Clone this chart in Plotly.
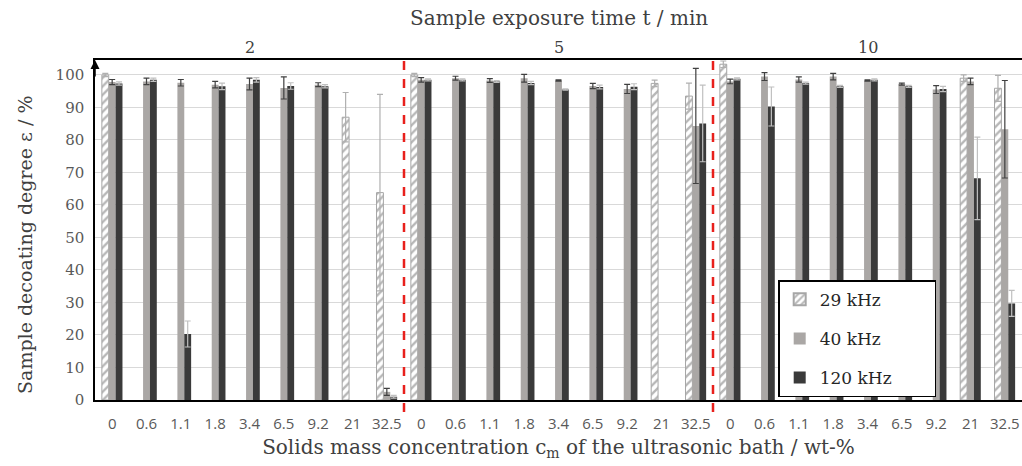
import plotly.graph_objects as go

conc_labels = ["0", "0.6", "1.1", "1.8", "3.4", "6.5", "9.2", "21", "32.5"]
time_groups = ["2", "5", "10"]
tick_text = conc_labels * 3
x_idx = list(range(len(tick_text)))

khz29 = [100, None, None, None, None, None, None, 87.0, 63.8,
         100, None, None, None, None, None, None, 97.4, 93.5,
         103.3, None, None, None, None, None, None, 99.0, 95.9]
khz29_err = [0.5, None, None, None, None, None, None, 7.6, 30.2,
             0.5, None, None, None, None, None, None, 1.0, 4.0,
             1.0, None, None, None, None, None, None, 1.0, 4.0]

khz40 = [97.8, 98.0, 97.6, 97.0, 97.2, 96.0, 97.0, None, 2.5,
         98.5, 99.0, 98.3, 99.0, 98.3, 96.6, 95.7, None, 84.3,
         98.0, 99.5, 98.6, 99.5, 98.3, 97.2, 95.5, 98.0, 83.3]
khz40_err = [0.8, 1.0, 1.0, 1.0, 1.8, 3.4, 0.6, None, 1.1,
             0.7, 0.6, 0.6, 1.2, 0.2, 0.8, 1.4, None, 17.7,
             0.7, 1.2, 0.8, 1.0, 0.2, 0.3, 1.2, 1.0, 15.0]

khz120 = [97.4, 98.5, 20.3, 96.5, 98.5, 96.6, 96.5, None, 1.0,
          98.5, 98.5, 98.0, 97.5, 95.5, 96.3, 96.4, None, 85.1,
          98.8, 90.3, 97.5, 96.5, 98.5, 96.5, 95.7, 68.2, 29.7]
khz120_err = [0.5, 0.5, 4.0, 1.0, 0.7, 1.0, 0.5, None, 0.4,
              0.3, 0.3, 0.3, 0.5, 0.2, 0.6, 0.9, None, 11.8,
              0.3, 6.0, 0.3, 0.3, 0.3, 0.3, 0.8, 12.7, 4.0]

SERIF = "DejaVu Serif, Liberation Serif, serif"
SANS = "Open Sans, Liberation Sans, sans-serif"
NB = "\u00a0"

fig = go.Figure()
fig.add_trace(go.Bar(
    x=x_idx, y=khz29, name="29 kHz" + NB * 9, legendgroup="a",
    marker=dict(color="white", line=dict(color="#a6a6a6", width=1),
                pattern=dict(shape="/", fgcolor="#6f6f6f", bgcolor="white", size=6, solidity=0.4)),
    error_y=dict(type="data", array=khz29_err, color="#b0b0b0", thickness=1.2, width=3),
))
fig.add_trace(go.Bar(
    x=x_idx, y=khz40, name="40 kHz", legendgroup="b",
    marker=dict(color="#aaa7a5", line=dict(width=0)),
    error_y=dict(type="data", array=khz40_err, color="#404040", thickness=1.2, width=3),
))
fig.add_trace(go.Bar(
    x=x_idx, y=khz120, name="120 kHz", legendgroup="c",
    marker=dict(color="#3a3a3a", line=dict(width=0)),
    error_y=dict(type="data", array=khz120_err, color="#c0c0c0", thickness=1.2, width=3),
))

shapes = []
for xb in [8.5, 17.5]:
    shapes.append(dict(type="line", xref="x", yref="paper", x0=xb, x1=xb, y0=-0.035, y1=1.015,
                       line=dict(color="#e8201c", width=2.5, dash="dash")))

annotations = []
for i, g in enumerate(time_groups):
    annotations.append(dict(x=i * 9 + 4, y=1.0, xref="x", yref="paper", yshift=1,
                            text=g, showarrow=False, yanchor="bottom",
                            font=dict(family=SERIF, size=16, color="#404040")))
annotations.append(dict(x=0.5, y=1.0, xref="paper", yref="paper", yshift=28,
                        text="Sample exposure time t / min", showarrow=False, yanchor="bottom",
                        font=dict(family=SERIF, size=20, color="#404040")))
annotations.append(dict(x=0, y=0.456, xref="paper", yref="paper", xshift=-70,
                        text="Sample decoating degree ε / %", showarrow=False, textangle=-90,
                        xanchor="center", yanchor="middle",
                        font=dict(family=SERIF, size=19, color="#404040")))
# arrow at the top of the y axis
annotations.append(dict(x=0, y=1.0, xref="paper", yref="paper", ax=0, ay=18,
                        axref="pixel", ayref="pixel", text="", showarrow=True,
                        arrowhead=2, arrowsize=1.2, arrowwidth=1.5, arrowcolor="black"))

fig.update_layout(
    width=1022, height=466,
    margin=dict(l=95, r=0, t=60, b=66),
    paper_bgcolor="white", plot_bgcolor="white",
    barmode="group", bargap=0.4, bargroupgap=0,
    showlegend=True,
    legend=dict(x=0.737, y=0.008, xanchor="left", yanchor="bottom",
                bgcolor="white", bordercolor="black", borderwidth=1.5,
                traceorder="grouped", tracegroupgap=14,
                font=dict(family=SERIF, size=17, color="#262626"),
                itemsizing="constant"),
    shapes=shapes, annotations=annotations,
    xaxis=dict(tickmode="array", tickvals=x_idx, ticktext=tick_text,
               range=[-0.5, 26.5], showline=True, mirror=True, linecolor="black", linewidth=1.5,
               showgrid=False, ticks="", zeroline=False, ticklabelstandoff=9,
               tickfont=dict(family=SANS, size=15, color="#595959"),
               title=dict(text="Solids mass concentration c<sub>m</sub> of the ultrasonic bath / wt-%",
                          font=dict(family=SERIF, size=20, color="#404040"), standoff=8)),
    yaxis=dict(range=[0, 104.6], tickmode="linear", tick0=0, dtick=10,
               showline=True, linecolor="black", linewidth=1.5, mirror=False,
               showgrid=True, gridcolor="#d9d9d9", gridwidth=1, zeroline=False, ticks="",
               ticklabelstandoff=6,
               tickfont=dict(family=SERIF, size=15, color="#595959")),
)

fig.write_html("out.html")
